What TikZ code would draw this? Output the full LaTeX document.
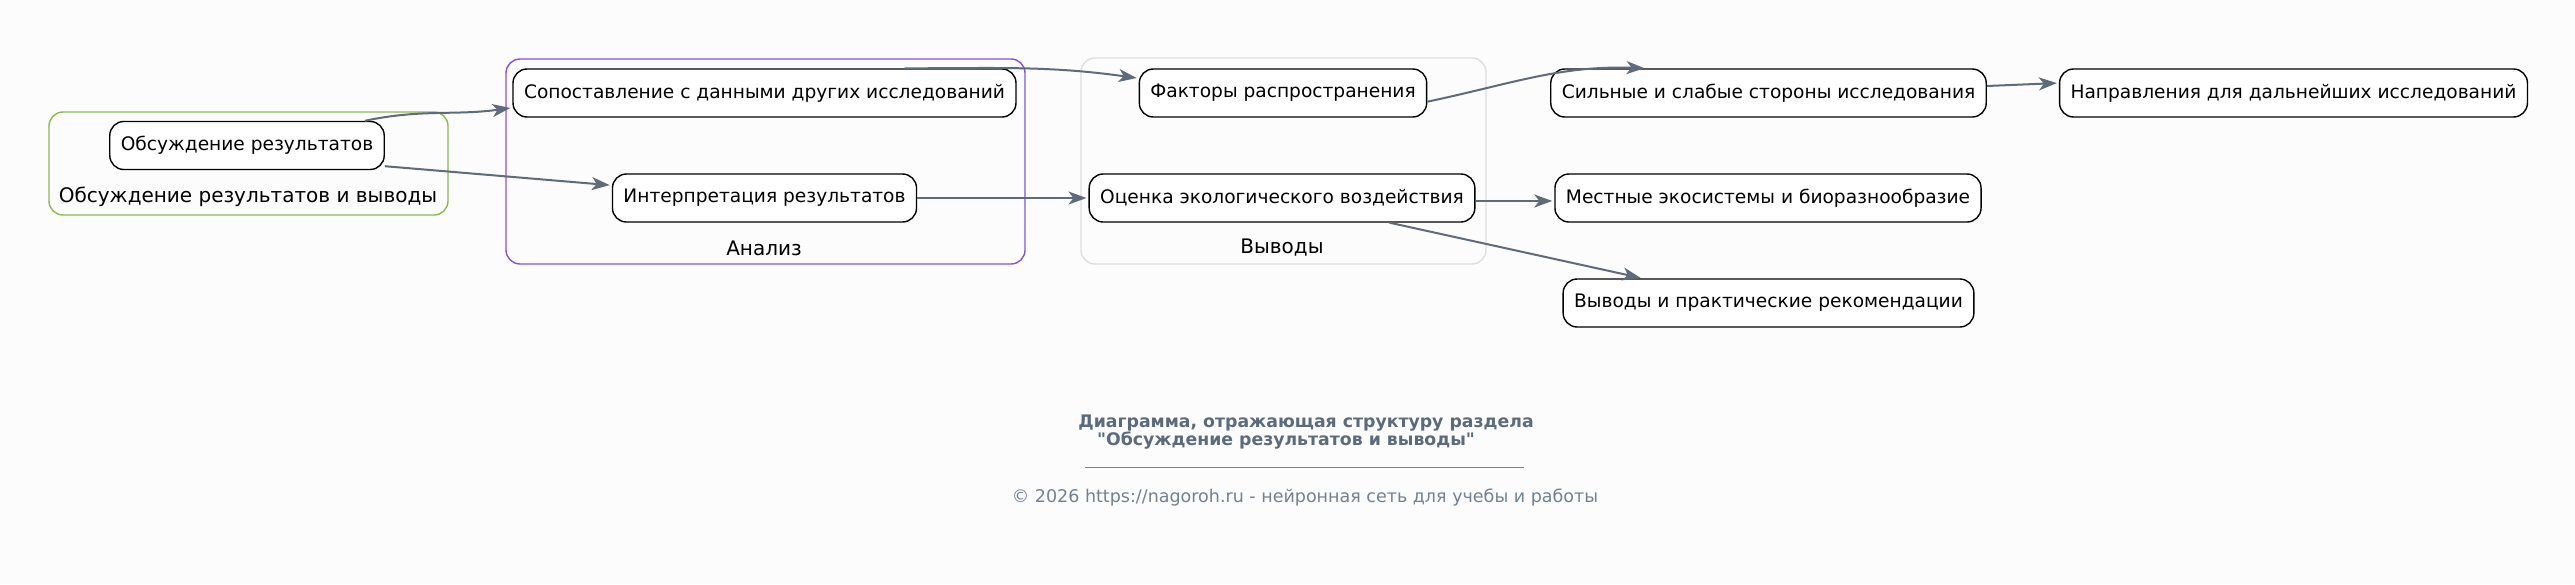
\documentclass[tikz,border=0pt]{standalone}
\usepackage{fontspec}
\setmainfont{DejaVu Sans}
\newfontfamily\plainfont{DejaVu Sans}
\usetikzlibrary{arrows.meta}

\definecolor{edgegray}{HTML}{5E6B7A}
\definecolor{grpgreen}{HTML}{8DB850}
\definecolor{grppurple}{HTML}{8550DC}
\definecolor{grpgray}{HTML}{DEDEDE}
\definecolor{titlegray}{HTML}{5A6B7D}

\begin{document}
\begin{tikzpicture}[x=0.5pt,y=-0.5pt,->,>={Stealth[length=9pt,width=6.5pt,inset=2.5pt]},shorten >=1pt,
  main node/.style={rectangle,rounded corners=7pt,draw,line width=0.7pt,fill=white,minimum height=24pt,
    inner xsep=5.5pt,font=\fontsize{9.3}{11}\selectfont},
  group box/.style={-,rounded corners=7pt,line width=0.7pt},
  group label/.style={font=\fontsize{10}{12}\selectfont},
  caption/.style={font=\plainfont\bfseries\fontsize{8.65}{10}\selectfont,text=titlegray}]
  \fill[white!99!black] (0,0) rectangle (2575,584);
  \useasboundingbox (0,0) rectangle (2575,584);

  % groups
  \draw[group box,grpgreen] (49,112) rectangle (448,215);
  \draw[group box,grppurple] (506,59) rectangle (1025,264);
  \draw[group box,grpgray] (1081,58) rectangle (1486,264);
  \node[group label] (g1) at (248,197) {Обсуждение результатов и выводы};
  \node[group label] (g2) at (764,248) {Анализ};
  \node[group label] (g3) at (1282,248) {Выводы};

  \node[main node] (o) at (247,145.5) {Обсуждение результатов};
  \node[main node] (s) at (764.5,93) {Сопоставление с данными других исследований};
  \node[main node] (i) at (764.5,198) {Интерпретация результатов};
  \node[main node] (f) at (1283,93) {Факторы распространения};
  \node[main node] (e) at (1282,198) {Оценка экологического воздействия};
  \node[main node] (c) at (1768.5,93) {Сильные и слабые стороны исследования};
  \node[main node] (n) at (2293.5,93) {Направления для дальнейших исследований};
  \node[main node] (m) at (1768,198) {Местные экосистемы и биоразнообразие};
  \node[main node] (r) at (1768.5,303) {Выводы и практические рекомендации};

  \path[edgegray,line width=1pt]
    ([xshift=-10pt]o.north east) edge[out=12,in=188] ([yshift=5pt]s.south west)
    ([yshift=2pt]o.south east) edge ([yshift=-6pt]i.north west)
    ([xshift=-56pt]s.north east) edge[out=0,in=172] ([yshift=-5pt]f.north west)
    (i.east) edge (e.west)
    ([yshift=8pt]f.south east) edge[out=12,in=178] ([xshift=-61pt]c.north)
    ([yshift=3.5pt]c.east) edge ([yshift=5pt]n.west)
    ([yshift=-1.5pt]e.east) edge ([yshift=-1.5pt]m.west)
    ([xshift=-43pt]e.south east) edge ([xshift=-63pt]r.north);

  % caption
  \node[caption] (t1) at (1306,423) {Диаграмма, отражающая структуру раздела};
  \node[caption] (t2) at (1286,441) {"Обсуждение результатов и выводы"};
  \draw[-,gray,line width=0.5pt] (1085,467) -- (1526,467);
  \node[font=\fontsize{8.75}{10}\selectfont,text=titlegray!85] (cp) at (1305,498) {© 2026 https://nagoroh.ru - нейронная сеть для учебы и работы};
\end{tikzpicture}
\end{document}
